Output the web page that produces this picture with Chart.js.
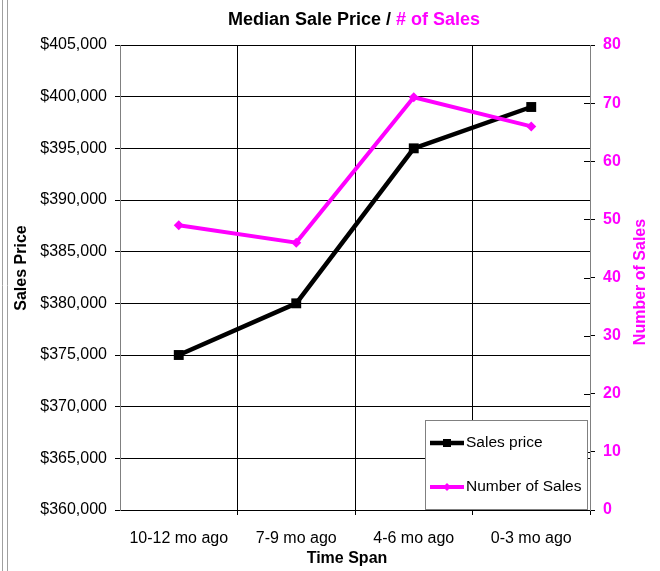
<!DOCTYPE html>
<html>
<head>
<meta charset="utf-8">
<script src="https://cdn.jsdelivr.net/npm/chart.js@4"></script>
<style>
  body { margin: 0; background: #fff; }
  canvas { display: block; }
</style>
</head>
<body>
<canvas id="myChart" width="660" height="571"></canvas>
<script>
let categories = ['10-12 mo ago', '7-9 mo ago', '4-6 mo ago', '0-3 mo ago']
let salesPrice = [375000, 380000, 395000, 399000]
let numberOfSales = [49, 46, 71, 66]

let magenta = '#FF00FF'
let font = 'Arial, "Liberation Sans", sans-serif'

// titles, legend box and frame drawn by hand to match the original
let decorations = {
    id: 'decorations',
    beforeDraw(chart) {
        let c = chart.ctx
        c.save()
        c.fillStyle = '#fff'
        c.fillRect(0, 0, chart.width, chart.height)
        c.strokeStyle = '#a0a0a0'
        c.lineWidth = 1
        c.beginPath()
        c.moveTo(2.5, 0); c.lineTo(2.5, chart.height)
        c.moveTo(7.5, 0); c.lineTo(7.5, chart.height)
        c.stroke()
        c.restore()
    },
    afterDraw(chart) {
        let c = chart.ctx
        c.save()

        // main title, two colours
        c.font = 'bold 18px ' + font
        c.textBaseline = 'middle'
        let t1 = 'Median Sale Price / '
        let t2 = '# of Sales'
        let w1 = c.measureText(t1).width
        let w2 = c.measureText(t2).width
        let x0 = 354 - (w1 + w2) / 2
        c.textAlign = 'left'
        c.fillStyle = '#000'
        c.fillText(t1, x0, 20)
        c.fillStyle = magenta
        c.fillText(t2, x0 + w1, 20)

        // axis titles
        c.font = 'bold 16px ' + font
        c.textAlign = 'center'
        c.fillStyle = '#000'
        c.fillText('Time Span', 347, 559)

        c.save()
        c.translate(22, 268)
        c.rotate(-Math.PI / 2)
        c.fillText('Sales Price', 0, 0)
        c.restore()

        c.save()
        c.translate(641, 282)
        c.rotate(-Math.PI / 2)
        c.fillStyle = magenta
        c.fillText('Number of Sales', 0, 0)
        c.restore()

        // right axis ticks cross the axis line
        let y1 = chart.scales.y1
        c.strokeStyle = '#000'
        c.lineWidth = 1
        c.beginPath()
        y1.ticks.forEach((t) => {
            let py = Math.round(y1.getPixelForValue(t.value)) + 0.5
            c.moveTo(584, py)
            c.lineTo(590, py)
        })
        c.stroke()

        // legend box inside the plot
        let lx = 425.5, ly = 420.5, lw = 162, lh = 89
        c.fillStyle = '#fff'
        c.fillRect(lx, ly, lw, lh)
        c.strokeStyle = '#808080'
        c.lineWidth = 1
        c.strokeRect(lx, ly, lw, lh)

        let rows = [443, 487]
        chart.data.datasets.forEach((ds, i) => {
            let y = rows[i]
            c.strokeStyle = ds.borderColor
            c.lineWidth = ds.borderWidth
            c.beginPath()
            c.moveTo(430, y)
            c.lineTo(464, y)
            c.stroke()
            c.fillStyle = ds.borderColor
            if (i === 0) {
                c.fillRect(443, y - 4, 8, 8)
            } else {
                c.beginPath()
                c.moveTo(447, y - 4); c.lineTo(451, y); c.lineTo(447, y + 4); c.lineTo(443, y)
                c.closePath()
                c.fill()
            }
            c.fillStyle = '#000'
            c.font = '15.5px ' + font
            c.textAlign = 'left'
            c.fillText(ds.label, 466, y)
        })
        c.restore()
    }
}

let myChart = document.getElementById('myChart').getContext('2d')

let priceChart = new Chart(myChart, {
    type: 'line',
    data: {
        labels: categories,
        datasets: [{
            label: 'Sales price',
            data: salesPrice,
            yAxisID: 'y',
            borderColor: '#000000',
            backgroundColor: '#000000',
            borderWidth: 4.5,
            pointStyle: 'rect',
            pointRadius: 7,
            pointBorderWidth: 0,
            tension: 0,
            order: 2
        }, {
            label: 'Number of Sales',
            data: numberOfSales,
            yAxisID: 'y1',
            borderColor: magenta,
            backgroundColor: magenta,
            borderWidth: 4,
            pointStyle: 'rectRot',
            pointRadius: 5,
            pointBorderWidth: 0,
            tension: 0,
            order: 1
        }]
    },
    options: {
        responsive: false,
        animation: false,
        layout: { padding: { top: 45, left: 0, right: 0, bottom: 0 } },
        plugins: {
            legend: { display: false },
            title: { display: false },
            tooltip: { enabled: false }
        },
        scales: {
            x: {
                offset: true,
                grid: {
                    offset: true,
                    color: (ctx) => (ctx.index === 0 || ctx.index === categories.length) ? 'rgba(0,0,0,0)' : '#000',
                    lineWidth: 1,
                    tickLength: 5
                },
                border: { color: '#000', width: 1 },
                ticks: { color: '#000', font: { family: font, size: 16 }, padding: 14, maxRotation: 0 },
                afterFit(scale) { scale.height = 61 }
            },
            y: {
                position: 'left',
                min: 360000,
                max: 405000,
                ticks: {
                    stepSize: 5000,
                    color: '#000',
                    font: { family: font, size: 16 },
                    padding: 8,
                    callback: (v) => '$' + v.toLocaleString('en-US')
                },
                grid: { color: '#000', lineWidth: 1, tickLength: 5 },
                border: { color: '#808080', width: 1 },
                afterFit(scale) { scale.width = 120 }
            },
            y1: {
                position: 'right',
                min: 0,
                max: 80,
                ticks: {
                    stepSize: 10,
                    color: magenta,
                    font: { family: font, size: 16, weight: 'bold' },
                    padding: 8
                },
                grid: { drawOnChartArea: false, color: '#000', tickLength: 5 },
                border: { color: '#808080', width: 1 },
                afterFit(scale) { scale.width = 70 }
            }
        }
    },
    plugins: [decorations]
})
</script>
</body>
</html>
